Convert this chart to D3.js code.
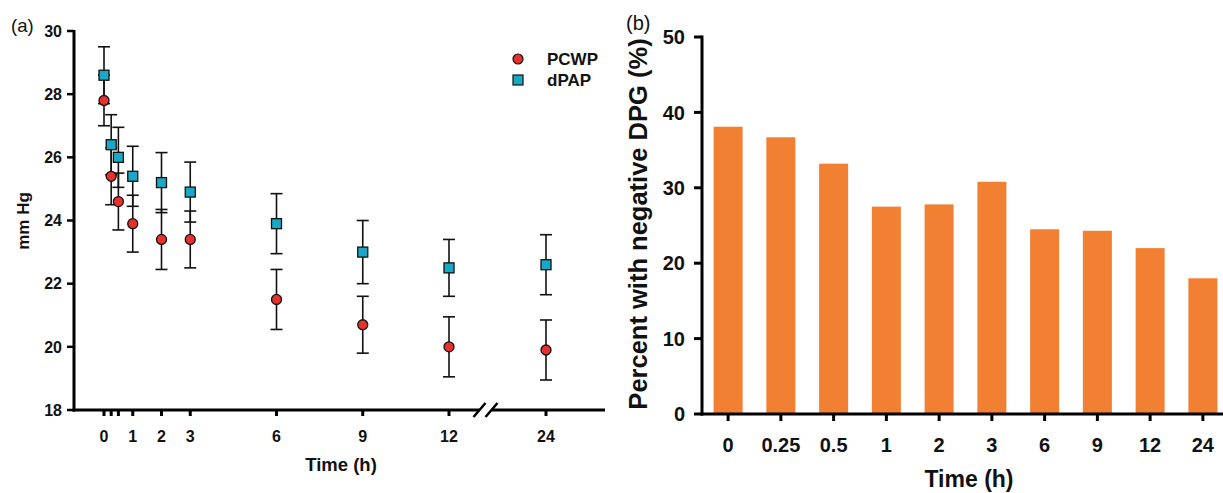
<!DOCTYPE html>
<html><head><meta charset="utf-8">
<script src="https://cdn.jsdelivr.net/npm/d3@7"></script>
<style>
html,body{margin:0;padding:0;background:#fff;}
svg{display:block;font-family:"Liberation Sans",Arial,sans-serif;}
</style></head>
<body>
<svg id="chart" width="1223" height="493"></svg>
<script>
// ---- Data panel (a) ----
const timesA = [0, 0.25, 0.5, 1, 2, 3, 6, 9, 12, 24];
const tickLabelsA = [0, 1, 2, 3, 6, 9, 12, 24];
const pcwpMean = [27.8, 25.4, 24.6, 23.9, 23.4, 23.4, 21.5, 20.7, 20.0, 19.9];
const pcwpErr  = [0.8, 0.9, 0.9, 0.9, 0.95, 0.9, 0.95, 0.9, 0.95, 0.95];
const dpapMean = [28.6, 26.4, 26.0, 25.4, 25.2, 24.9, 23.9, 23.0, 22.5, 22.6];
const dpapErr  = [0.9, 0.95, 0.95, 0.95, 0.95, 0.95, 0.95, 1.0, 0.9, 0.95];
const yTicksA = [18, 20, 22, 24, 26, 28, 30];
// ---- Data panel (b) ----
const categoriesB = ["0", "0.25", "0.5", "1", "2", "3", "6", "9", "12", "24"];
const percentNeg = [38.1, 36.7, 33.2, 27.5, 27.8, 30.8, 24.5, 24.3, 22.0, 18.0];
const yTicksB = [0, 10, 20, 30, 40, 50];

const svg = d3.select("#chart");
const RED = "#e8312f", CYAN = "#19a9c6", ORANGE = "#f28033", INK = "#111";

// ================= Panel (a) =================
const A = {left: 74, top: 31, bottom: 410, right: 605};
const xA = d3.scaleLinear().domain([0, 12, 24]).range([104, 449, 546]);
const yA = d3.scaleLinear().domain([18, 30]).range([A.bottom, A.top]);
const gA = svg.append("g");

// y axis
gA.append("line").attr("x1", A.left).attr("x2", A.left).attr("y1", A.top - 1).attr("y2", A.bottom + 1.5)
  .attr("stroke", "#000").attr("stroke-width", 3);
gA.selectAll(".ytA").data(yTicksA).join("line")
  .attr("x1", A.left - 7).attr("x2", A.left).attr("y1", d => yA(d)).attr("y2", d => yA(d))
  .attr("stroke", "#000").attr("stroke-width", 2.5);
gA.selectAll(".ylA").data(yTicksA).join("text")
  .attr("x", A.left - 12).attr("y", d => yA(d)).attr("dy", "0.36em")
  .attr("text-anchor", "end").attr("font-weight", "bold").attr("font-size", 16).attr("fill", INK)
  .text(d => d);
// x axis
gA.append("line").attr("x1", A.left - 1.5).attr("x2", A.right).attr("y1", A.bottom).attr("y2", A.bottom)
  .attr("stroke", "#000").attr("stroke-width", 3);
gA.selectAll(".xtA").data(timesA).join("line")
  .attr("x1", d => xA(d)).attr("x2", d => xA(d)).attr("y1", A.bottom).attr("y2", A.bottom + 6)
  .attr("stroke", "#000").attr("stroke-width", 3);
gA.selectAll(".xlA").data(tickLabelsA).join("text")
  .attr("x", d => xA(d)).attr("y", A.bottom + 32)
  .attr("text-anchor", "middle").attr("font-weight", "bold").attr("font-size", 16).attr("fill", INK)
  .text(d => d);
// axis break
const bx = (xA(12) + xA(24)) / 2 - 12;
gA.append("rect").attr("x", bx - 6).attr("y", A.bottom - 3).attr("width", 12).attr("height", 6).attr("fill", "#fff");
[-6, 6].forEach(o => {
  gA.append("line").attr("x1", bx + o - 6).attr("y1", A.bottom + 7).attr("x2", bx + o + 6).attr("y2", A.bottom - 7)
    .attr("stroke", "#000").attr("stroke-width", 2.5);
});
// titles
gA.append("text").attr("x", 341).attr("y", 471).attr("text-anchor", "middle")
  .attr("font-weight", "bold").attr("font-size", 18.5).attr("fill", INK).text("Time (h)");
gA.append("text").attr("transform", `translate(29,221) rotate(-90)`)
  .attr("text-anchor", "middle").attr("font-weight", "bold").attr("font-size", 17).attr("fill", INK).text("mm Hg");
gA.append("text").attr("x", 11).attr("y", 32).attr("font-size", 18.5).attr("fill", INK).text("(a)");

// error bars
function errBars(means, errs) {
  const g = gA.append("g").attr("stroke", INK).attr("stroke-width", 1.6);
  timesA.forEach((t, i) => {
    const x = xA(t), y1 = yA(means[i] + errs[i]), y2 = yA(means[i] - errs[i]);
    g.append("line").attr("x1", x).attr("x2", x).attr("y1", y1).attr("y2", y2);
    g.append("line").attr("x1", x - 6).attr("x2", x + 6).attr("y1", y1).attr("y2", y1);
    g.append("line").attr("x1", x - 6).attr("x2", x + 6).attr("y1", y2).attr("y2", y2);
  });
}
errBars(dpapMean, dpapErr);
errBars(pcwpMean, pcwpErr);
// markers
gA.selectAll(".pc").data(timesA).join("circle")
  .attr("cx", d => xA(d)).attr("cy", (d, i) => yA(pcwpMean[i])).attr("r", 5)
  .attr("fill", RED).attr("stroke", INK).attr("stroke-width", 1.3);
gA.selectAll(".dp").data(timesA).join("rect")
  .attr("x", d => xA(d) - 5).attr("y", (d, i) => yA(dpapMean[i]) - 5).attr("width", 10).attr("height", 10)
  .attr("fill", CYAN).attr("stroke", INK).attr("stroke-width", 1.3);
// legend
const lg = gA.append("g");
lg.append("circle").attr("cx", 518).attr("cy", 59).attr("r", 5).attr("fill", RED).attr("stroke", INK).attr("stroke-width", 1.2);
lg.append("rect").attr("x", 513).attr("y", 75).attr("width", 10).attr("height", 10).attr("fill", CYAN).attr("stroke", INK).attr("stroke-width", 1.2);
lg.append("text").attr("x", 547).attr("y", 59).attr("dy", "0.36em").attr("font-weight", "bold").attr("font-size", 17).attr("fill", INK).text("PCWP");
lg.append("text").attr("x", 547).attr("y", 80).attr("dy", "0.36em").attr("font-weight", "bold").attr("font-size", 17).attr("fill", INK).text("dPAP");

// ================= Panel (b) =================
const B = {left: 702, top: 37, bottom: 414, right: 1229};
const xB = d3.scaleBand().domain(categoriesB).range([B.left, B.right]).paddingInner(0.45).paddingOuter(0.22);
const yB = d3.scaleLinear().domain([0, 50]).range([B.bottom, B.top]);
const gB = svg.append("g");
gB.selectAll(".bar").data(categoriesB).join("rect")
  .attr("x", d => xB(d)).attr("width", xB.bandwidth())
  .attr("y", (d, i) => yB(percentNeg[i])).attr("height", (d, i) => yB(0) - yB(percentNeg[i]))
  .attr("fill", ORANGE);
gB.append("line").attr("x1", B.left).attr("x2", B.left).attr("y1", B.top - 1.5).attr("y2", B.bottom + 1.5)
  .attr("stroke", "#000").attr("stroke-width", 3);
gB.append("line").attr("x1", B.left - 1.5).attr("x2", B.right).attr("y1", B.bottom).attr("y2", B.bottom)
  .attr("stroke", "#000").attr("stroke-width", 3);
gB.selectAll(".ytB").data(yTicksB).join("line")
  .attr("x1", B.left - 8).attr("x2", B.left).attr("y1", d => yB(d)).attr("y2", d => yB(d))
  .attr("stroke", "#000").attr("stroke-width", 3);
gB.selectAll(".ylB").data(yTicksB).join("text")
  .attr("x", B.left - 17).attr("y", d => yB(d)).attr("dy", "0.36em")
  .attr("text-anchor", "end").attr("font-weight", "bold").attr("font-size", 20).attr("fill", INK)
  .text(d => d);
gB.selectAll(".xtB").data(categoriesB).join("line")
  .attr("x1", d => xB(d) + xB.bandwidth() / 2).attr("x2", d => xB(d) + xB.bandwidth() / 2)
  .attr("y1", B.bottom).attr("y2", B.bottom + 7)
  .attr("stroke", "#000").attr("stroke-width", 3);
gB.selectAll(".xlB").data(categoriesB).join("text")
  .attr("x", d => xB(d) + xB.bandwidth() / 2).attr("y", 452)
  .attr("text-anchor", "middle").attr("font-weight", "bold").attr("font-size", 20).attr("fill", INK)
  .text(d => d);
gB.append("text").attr("x", 969).attr("y", 487).attr("text-anchor", "middle")
  .attr("font-weight", "bold").attr("font-size", 23).attr("fill", INK).text("Time (h)");
gB.append("text").attr("transform", `translate(647,224) rotate(-90)`)
  .attr("text-anchor", "middle").attr("font-weight", "bold").attr("font-size", 25.5).attr("fill", INK)
  .text("Percent with negative DPG (%)");
gB.append("text").attr("x", 626).attr("y", 30).attr("font-size", 20).attr("fill", INK).text("(b)");
</script>
</body></html>
